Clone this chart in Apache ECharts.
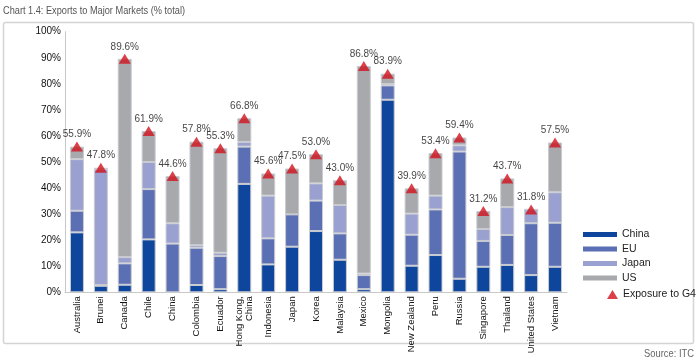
<!DOCTYPE html>
<html>
<head>
<meta charset="utf-8">
<script src="https://cdn.jsdelivr.net/npm/echarts@6/dist/echarts.min.js"></script>
<style>html,body{margin:0;padding:0;background:#fff;}#c{width:700px;height:363px;}</style>
</head>
<body>
<div id="c"></div>
<script>
const categories = ['Australia','Brunei','Canada','Chile','China','Colombia','Ecuador','Hong Kong,\nChina','Indonesia','Japan','Korea','Malaysia','Mexico','Mongolia','New Zealand','Peru','Russia','Singapore','Thailand','United States','Vietnam'];
const chinaVals = [23.0, 2.5, 2.9, 20.3, 0, 2.8, 1.2, 41.6, 10.7, 17.5, 23.5, 12.5, 1.2, 73.9, 10.2, 14.3, 5.2, 9.8, 10.5, 6.6, 9.8];
const euVals    = [8.3, 0.3, 8.2, 19.3, 18.7, 14.3, 12.7, 14.3, 10.0, 12.4, 11.7, 10.1, 5.4, 5.5, 11.9, 17.5, 48.8, 9.9, 11.5, 19.9, 16.9];
const japanVals = [19.8, 44.5, 2.4, 10.4, 7.8, 1.0, 1.3, 1.8, 16.4, 0, 6.6, 10.9, 0.6, 0.5, 8.1, 5.3, 2.4, 4.6, 10.7, 5.3, 11.7];
const usVals    = [4.8, 0.5, 76.1, 11.9, 18.1, 39.7, 40.1, 9.1, 8.5, 17.6, 11.2, 9.5, 79.6, 4.0, 9.7, 16.3, 3.0, 6.9, 11.0, 0, 19.1];
const exposureVals = [55.9, 47.8, 89.6, 61.9, 44.6, 57.8, 55.3, 66.8, 45.6, 47.5, 53.0, 43.0, 86.8, 83.9, 39.9, 53.4, 59.4, 31.2, 43.7, 31.8, 57.5];
const yTicks = [0,10,20,30,40,50,60,70,80,90,100];

const FONT = '"Liberation Sans Narrow", "Liberation Sans", Arial, sans-serif';
const chart = echarts.init(document.getElementById('c'), null, {renderer: 'canvas'});
const barStyle = (c) => ({color: c, borderColor: '#c9cbd0', borderWidth: 1});
const option = {
  animation: false,
  textStyle: {fontFamily: FONT},
  graphic: [
    {type: 'rect', shape: {x: 3.5, y: 22.5, width: 690, height: 321, r: 2}, style: {fill: 'none', stroke: '#d4d4d4', lineWidth: 1.5}, silent: true},
    {type: 'text', x: 3, y: 5, scaleX: 0.8, style: {text: 'Chart 1.4: Exports to Major Markets (% total)', font: '11.5px ' + FONT, fill: '#555'}},
    {type: 'text', x: 694, y: 348, scaleX: 0.85, style: {text: 'Source: ITC', font: '11px ' + FONT, fill: '#666', align: 'right'}}
  ],
  grid: {left: 65, right: 133, top: 31.7, bottom: 70.7, containLabel: false},
  legend: [
    {data: ['China','EU','Japan','US'], orient: 'vertical', left: 578, top: 224, itemWidth: 34, itemHeight: 5, itemGap: 3.5,
     icon: 'rect', itemStyle: {borderWidth: 0}, textStyle: {fontFamily: FONT, fontSize: 10.5, color: '#222'}},
    {data: ['Exposure to G4'], orient: 'vertical', left: 602, top: 284, itemWidth: 11, itemHeight: 9, itemGap: 5,
     itemStyle: {borderWidth: 0}, textStyle: {fontFamily: FONT, fontSize: 10.5, color: '#222'}}
  ],
  xAxis: {
    type: 'category', data: categories,
    axisLine: {lineStyle: {color: '#c8c8c8', width: 1}},
    axisTick: {show: false},
    axisLabel: {rotate: 90, interval: 0, fontSize: 9.5, color: '#111', fontFamily: FONT, margin: 4, lineHeight: 10}
  },
  yAxis: {
    type: 'value', min: 0, max: 100, interval: 10,
    axisLine: {show: true, lineStyle: {color: '#c8c8c8', width: 1}},
    axisTick: {show: false},
    splitLine: {show: false},
    axisLabel: {formatter: (v) => yTicks.includes(v) ? v + '%' : '', fontSize: 10, color: '#111', fontFamily: FONT, margin: 4}
  },
  series: [
    {name: 'China', type: 'bar', stack: 'g', data: chinaVals, barWidth: 14, itemStyle: barStyle('#0d469c')},
    {name: 'EU', type: 'bar', stack: 'g', data: euVals, barWidth: 14, itemStyle: barStyle('#5a6fb4')},
    {name: 'Japan', type: 'bar', stack: 'g', data: japanVals, barWidth: 14, itemStyle: barStyle('#9aa1d1')},
    {name: 'US', type: 'bar', stack: 'g', data: usVals, barWidth: 14, itemStyle: barStyle('#a7a9ad')},
    {name: 'Exposure to G4', type: 'scatter', data: exposureVals, symbol: 'triangle', symbolSize: [12, 10],
     itemStyle: {color: '#d2121c'}, z: 5,
     label: {show: true, position: 'top', distance: 2, formatter: (p) => p.value.toFixed(1) + '%', fontSize: 10, color: '#111', fontFamily: FONT}}
  ]
};
chart.setOption(option);
</script>
</body>
</html>
